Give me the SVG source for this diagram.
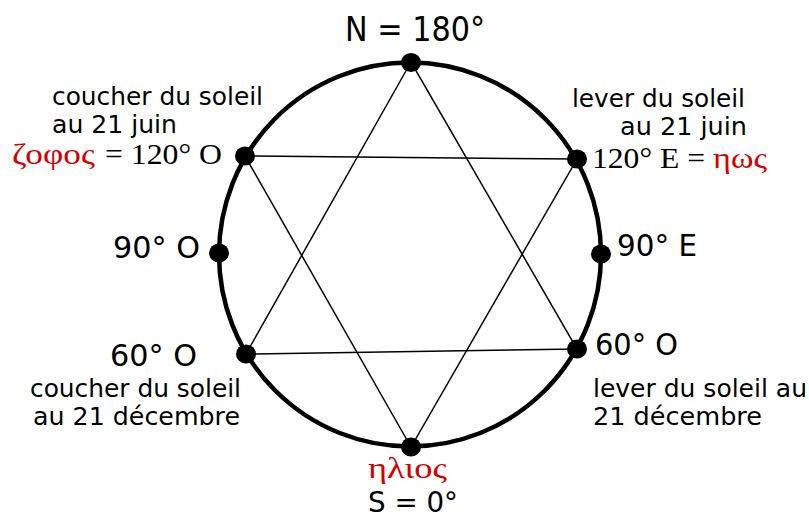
<svg xmlns="http://www.w3.org/2000/svg" width="809" height="520" viewBox="0 0 809 520">
<style>
.ring{fill:none;stroke:#000;stroke-width:4.5}
.edge{stroke:#000;stroke-width:1.5;fill:none}
.dot{fill:#000}
.s{font-family:"DejaVu Sans","Liberation Sans",sans-serif;fill:#000}
.big{font-size:30px}
.sm{font-size:24px}
.sf{font-family:"Liberation Serif","Times New Roman",serif;font-size:30px;fill:#000}
.red{fill:#d40000}
</style>
<rect width="809" height="520" fill="#fff"/>
<ellipse id="ring" class="ring" cx="410" cy="254.5" rx="191" ry="192"/>
<g id="connectors">
<polygon class="edge" points="411,62 246,354 577,349"/>
<polygon class="edge" points="411,447 245,156 577,159"/>
</g>
<g id="n-north">
<ellipse class="dot" cx="411" cy="62.5" rx="10" ry="9.5"/>
<text class="s" font-size="34" x="345" y="41" textLength="140" lengthAdjust="spacingAndGlyphs">N = 180°</text>
</g>
<g id="n-120o">
<ellipse class="dot" cx="245" cy="156" rx="10" ry="9.5"/>
<text class="s sm" x="52" y="105" textLength="211" lengthAdjust="spacingAndGlyphs">coucher du soleil</text>
<text class="s sm" x="52" y="133" textLength="125" lengthAdjust="spacingAndGlyphs">au 21 juin</text>
<text class="sf red" x="12" y="164" textLength="83" lengthAdjust="spacingAndGlyphs">ζοφος</text>
<text class="sf" x="105" y="164" textLength="117" lengthAdjust="spacingAndGlyphs">= 120° O</text>
</g>
<g id="n-120e">
<ellipse class="dot" cx="577" cy="159" rx="10" ry="9.5"/>
<text class="s sm" x="572" y="107" textLength="173" lengthAdjust="spacingAndGlyphs">lever du soleil</text>
<text class="s sm" x="620" y="135" textLength="127" lengthAdjust="spacingAndGlyphs">au 21 juin</text>
<text class="sf" x="592" y="168" textLength="113" lengthAdjust="spacingAndGlyphs">120° E =</text>
<text class="sf red" x="713" y="168" textLength="54" lengthAdjust="spacingAndGlyphs">ηως</text>
</g>
<g id="n-90o">
<ellipse class="dot" cx="219" cy="253" rx="10" ry="9.5"/>
<text class="s big" x="113" y="258" textLength="87" lengthAdjust="spacingAndGlyphs">90° O</text>
</g>
<g id="n-90e">
<ellipse class="dot" cx="601" cy="254" rx="10" ry="9.5"/>
<text class="s big" x="617" y="256" textLength="80" lengthAdjust="spacingAndGlyphs">90° E</text>
</g>
<g id="n-60o">
<ellipse class="dot" cx="246" cy="354" rx="10" ry="9.5"/>
<text class="s big" x="110" y="366" textLength="87" lengthAdjust="spacingAndGlyphs">60° O</text>
<text class="s sm" x="30" y="397" textLength="211" lengthAdjust="spacingAndGlyphs">coucher du soleil</text>
<text class="s sm" x="33" y="425" textLength="207" lengthAdjust="spacingAndGlyphs">au 21 décembre</text>
</g>
<g id="n-60e">
<ellipse class="dot" cx="577" cy="349" rx="10" ry="9.5"/>
<text class="s big" x="595" y="355" textLength="83" lengthAdjust="spacingAndGlyphs">60° O</text>
<text class="s sm" x="593" y="397" textLength="214" lengthAdjust="spacingAndGlyphs">lever du soleil au</text>
<text class="s sm" x="593" y="425" textLength="169" lengthAdjust="spacingAndGlyphs">21 décembre</text>
</g>
<g id="n-south">
<ellipse class="dot" cx="411" cy="447" rx="10" ry="9.5"/>
<text class="sf red" font-size="31" x="368" y="478" textLength="79" lengthAdjust="spacingAndGlyphs">ηλιος</text>
<text class="s" font-size="28" x="368" y="512" textLength="90" lengthAdjust="spacingAndGlyphs">S = 0°</text>
</g>
</svg>
